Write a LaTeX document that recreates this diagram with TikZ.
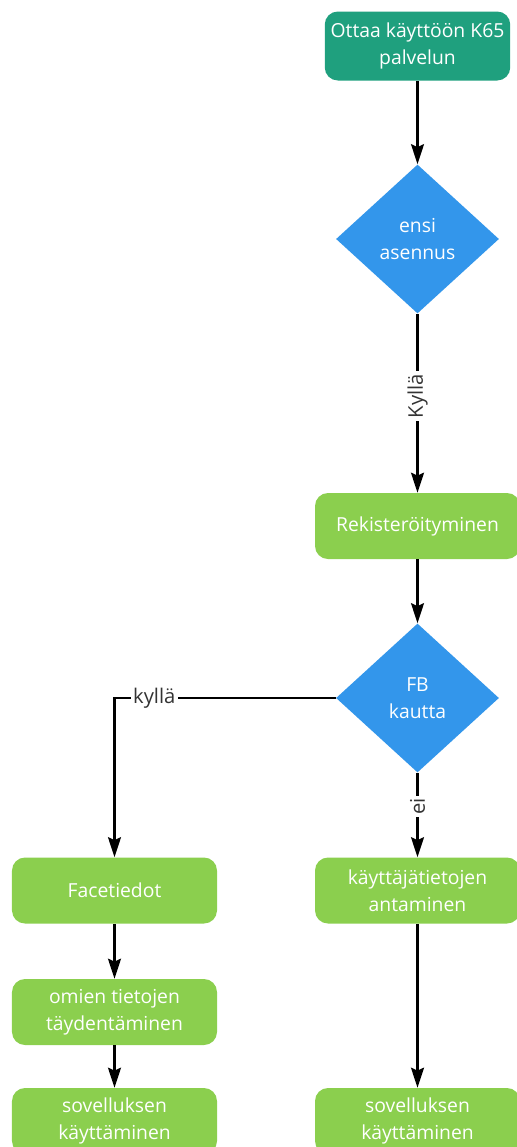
\documentclass[tikz,border=0pt]{standalone}
\usepackage{fontspec}
\setmainfont{Open Sans}
\usepackage{xcolor}
\usetikzlibrary{positioning,arrows.meta,shapes.geometric}
\definecolor{startgreen}{HTML}{1FA07E}
\definecolor{stepgreen}{HTML}{8BCF4E}
\definecolor{choiceblue}{HTML}{3396EB}
\definecolor{labelgray}{HTML}{333333}

\begin{document}
\begin{tikzpicture}[
    stepbox/.style={rectangle, rounded corners=2.6mm, fill=stepgreen, text=white, minimum width=4.1cm, minimum height=1.32cm, align=center, font=\fontsize{11}{15.3}\selectfont},
    startbox/.style={stepbox, fill=startgreen, minimum width=3.68cm, minimum height=1.38cm},
    choice/.style={diamond, fill=choiceblue, text=white, inner sep=0pt, minimum width=3.26cm, minimum height=2.98cm, align=center, font=\fontsize{11}{15.3}\selectfont},
    answer/.style={fill=white, text=labelgray, inner sep=1.5pt, font=\fontsize{11.5}{12}\selectfont},
    arrow/.style={-{Stealth[length=4mm, width=2.6mm, inset=0.6mm]}, line width=1.2pt, black},
]
\useasboundingbox (0,0) rectangle (10.34,-22.94);
\clip (0,0) rectangle (10.34,-22.94);

% Start and first choice
\node[startbox] (start) at (8.35,-0.92) {Ottaa käyttöön K65\\palvelun};
\node[choice] (first) at (8.35,-4.78) {ensi\\asennus};
\node[stepbox] (register) at (8.35,-10.52) {Rekisteröityminen};
\node[choice] (fb) at (8.35,-13.96) {FB\\kautta};

% Left branch (via FB)
\node[stepbox] (facedata) at (2.29,-17.81) {Facetiedot};
\node[stepbox] (complete) at (2.29,-20.24) {omien tietojen\\täydentäminen};
\node[stepbox] (useleft) at (2.29,-22.42) {sovelluksen\\käyttäminen};

% Right branch (own data)
\node[stepbox] (userdata) at (8.35,-17.81) {käyttäjätietojen\\antaminen};
\node[stepbox] (useright) at (8.35,-22.42) {sovelluksen\\käyttäminen};

% Main flow
\draw[arrow] (start) -- (first);
\draw[arrow] (first) -- node[answer, pos=0.46, rotate=90] {Kyllä} (register);
\draw[arrow] (register) -- (fb);

% Decisions
\draw[arrow] (fb.west) -| node[answer, pos=0.41] {kyllä} (facedata.north);
\draw[arrow] (fb) -- node[answer, pos=0.4, rotate=90] {ei} (userdata);

% Remaining steps
\draw[arrow] (facedata) -- (complete);
\draw[arrow] (complete) -- (useleft);
\draw[arrow] (userdata) -- (useright);
\end{tikzpicture}
\end{document}
